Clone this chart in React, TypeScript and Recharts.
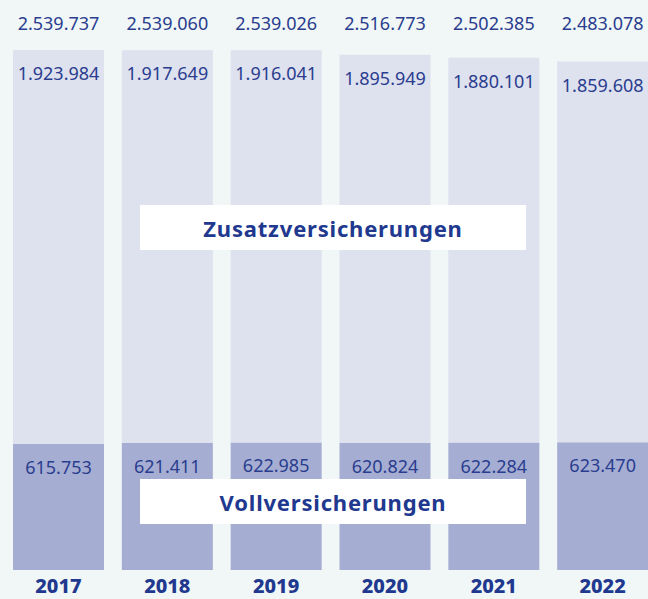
import React from 'react';
import { BarChart, Bar, XAxis, YAxis, LabelList } from 'recharts';

const years = ['2017', '2018', '2019', '2020', '2021', '2022'];
const vollValues = [615753, 621411, 622985, 620824, 622284, 623470];
const zusatzValues = [1923984, 1917649, 1916041, 1895949, 1880101, 1859608];
const totals = [2539737, 2539060, 2539026, 2516773, 2502385, 2483078];

const data = years.map((year, i) => ({
  year,
  voll: vollValues[i],
  zusatz: zusatzValues[i],
  total: totals[i],
}));

const TEXT = '#2a3d8f';
const TITLE = '#21388f';
const FONT = '"Noto Sans", sans-serif';

const fmt = (v: number) => String(v).replace(/\B(?=(\d{3})+(?!\d))/g, '.');

// eslint-disable-next-line @typescript-eslint/no-explicit-any
const InsideTopLabel = (props: any) => {
  const { x, y, width, value } = props;
  return (
    <text
      x={x + width / 2}
      y={y + 23}
      textAnchor="middle"
      dominantBaseline="central"
      fill={TEXT}
      fontSize={18}
      fontFamily={FONT}
    >
      {fmt(value)}
    </text>
  );
};

// eslint-disable-next-line @typescript-eslint/no-explicit-any
const TotalLabel = (props: any) => {
  const { x, width, value } = props;
  return (
    <text
      x={x + width / 2}
      y={23}
      textAnchor="middle"
      dominantBaseline="central"
      fill={TEXT}
      fontSize={18}
      fontFamily={FONT}
    >
      {fmt(value)}
    </text>
  );
};

// eslint-disable-next-line @typescript-eslint/no-explicit-any
const YearTick = (props: any) => {
  const { x, y, payload } = props;
  return (
    <text
      x={x}
      y={y + 15}
      textAnchor="middle"
      dominantBaseline="central"
      fill={TITLE}
      fontSize={20}
      fontWeight={800}
      fontFamily={FONT}
    >
      {payload.value}
    </text>
  );
};

const boxStyle: React.CSSProperties = {
  position: 'absolute',
  left: 140,
  width: 386,
  height: 45,
  background: '#ffffff',
  display: 'flex',
  alignItems: 'center',
  justifyContent: 'center',
  color: TITLE,
  fontFamily: FONT,
  fontWeight: 700,
  fontSize: 22,
  letterSpacing: 0.8,
};

export default function App() {
  return (
    <div
      style={{
        position: 'fixed',
        left: 0,
        top: 0,
        width: 648,
        height: 599,
        overflow: 'hidden',
        background: '#f0f7f6',
      }}
    >
      <BarChart
        width={657}
        height={599}
        data={data}
        margin={{ top: 50, right: 0, left: 4, bottom: 0 }}
      >
        <XAxis
          dataKey="year"
          axisLine={false}
          tickLine={false}
          tickSize={0}
          tickMargin={0}
          height={29}
          tick={<YearTick />}
          interval={0}
        />
        <YAxis hide domain={[0, 'dataMax']} />
        <Bar dataKey="voll" stackId="a" fill="#a5aed2" barSize={91} isAnimationActive={false}>
          <LabelList dataKey="voll" content={<InsideTopLabel />} />
        </Bar>
        <Bar dataKey="zusatz" stackId="a" fill="#dee1ee" barSize={91} isAnimationActive={false}>
          <LabelList dataKey="zusatz" content={<InsideTopLabel />} />
          <LabelList dataKey="total" content={<TotalLabel />} />
        </Bar>
      </BarChart>
      <div style={{ ...boxStyle, top: 205 }}>Zusatzversicherungen</div>
      <div style={{ ...boxStyle, top: 479 }}>Vollversicherungen</div>
    </div>
  );
}
